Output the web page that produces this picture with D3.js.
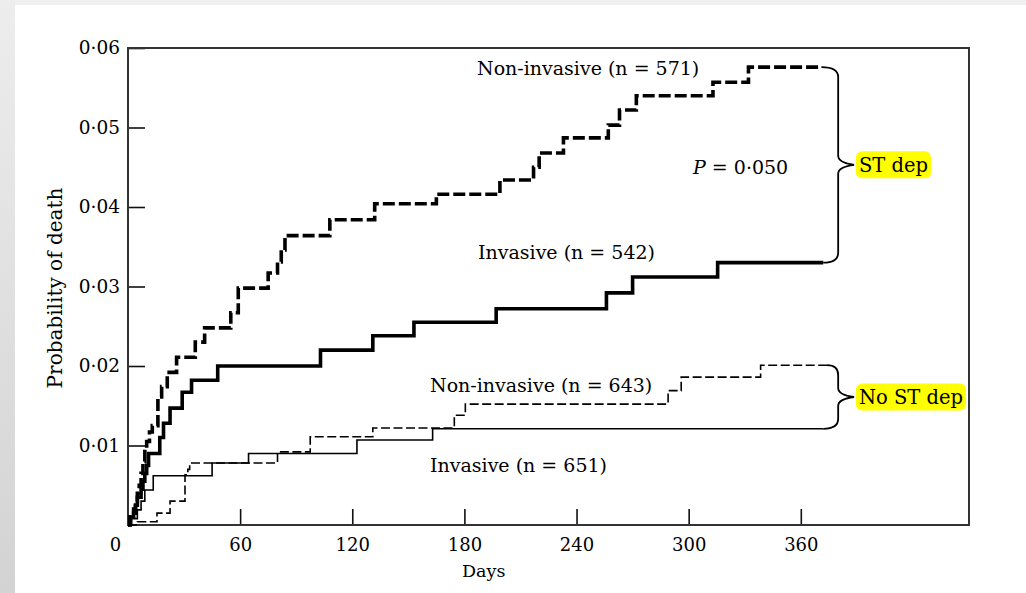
<!DOCTYPE html>
<html>
<head>
<meta charset="utf-8">
<script src="https://cdn.jsdelivr.net/npm/d3@7"></script>
<style>
  html, body { margin: 0; padding: 0; background: #efefef; }
  svg { display: block; }
  text { font-family: "DejaVu Serif", "Liberation Serif", serif; fill: #000; }
</style>
</head>
<body>
<div class="chart"></div>
<script>
// Kaplan-Meier style step curves (days, probability of death)
var stDepNonInvDays = [0, 1, 3, 4, 5, 6, 7, 8, 9, 10, 11.5, 13, 16, 18, 21, 26, 36, 41, 55, 59, 75, 80, 82, 84, 108, 132, 165, 199, 217, 220, 233, 257, 263, 272, 313, 332, 371];
var stDepNonInvProb = [0, 0.001, 0.002, 0.003, 0.004, 0.005, 0.0065, 0.008, 0.0095, 0.0105, 0.0117, 0.0125, 0.0161, 0.0174, 0.0192, 0.0211, 0.023, 0.0248, 0.0267, 0.0298, 0.0317, 0.0331, 0.0346, 0.0364, 0.0384, 0.0404, 0.0416, 0.0434, 0.045, 0.0468, 0.0487, 0.0503, 0.0522, 0.054, 0.0557, 0.0576, 0.0576];

var stDepInvDays = [0, 1, 3, 4, 5, 7, 8, 9, 10, 11, 17, 19, 22.5, 29, 34, 48, 103, 131, 153, 197, 256, 270, 315.5, 372];
var stDepInvProb = [0, 0.001, 0.0015, 0.0025, 0.0035, 0.0045, 0.0055, 0.0065, 0.0075, 0.009, 0.011, 0.0128, 0.0147, 0.0167, 0.0182, 0.02, 0.022, 0.0238, 0.0255, 0.0272, 0.0292, 0.0312, 0.033, 0.033];

var noStNonInvDays = [0, 5, 15.5, 22.5, 30.5, 32, 33, 80, 97.5, 131, 174.6, 180.5, 289, 296, 338.5, 374];
var noStNonInvProb = [0, 0.0004, 0.0015, 0.003, 0.0063, 0.007, 0.0078, 0.0092, 0.0111, 0.0122, 0.0138, 0.0152, 0.0169, 0.0186, 0.0201, 0.0201];

var noStInvDays = [0, 2, 5, 7, 9, 13.5, 45, 64.5, 122.5, 163, 372];
var noStInvProb = [0, 0.0008, 0.0019, 0.003, 0.0044, 0.0062, 0.0078, 0.009, 0.0107, 0.0121, 0.0121];

var xTicks = [0, 60, 120, 180, 240, 300, 360];
var yTicks = [0.01, 0.02, 0.03, 0.04, 0.05, 0.06];

var groupLabels = ['ST dep', 'No ST dep'];
var curveLabels = ['Non-invasive (n = 571)', 'Invasive (n = 542)', 'Non-invasive (n = 643)', 'Invasive (n = 651)'];

function zipSeries(days, prob) {
    return days.map(function (d, i) { return { day: d, p: prob[i] }; });
}

var series = [
    { name: 'stNonInv', values: zipSeries(stDepNonInvDays, stDepNonInvProb), width: 3.6, dash: '12,4' },
    { name: 'stInv', values: zipSeries(stDepInvDays, stDepInvProb), width: 3.6, dash: null },
    { name: 'noNonInv', values: zipSeries(noStNonInvDays, noStNonInvProb), width: 1.6, dash: '9,3.5' },
    { name: 'noInv', values: zipSeries(noStInvDays, noStInvProb), width: 1.6, dash: null }
];

var W = 1026, H = 593;
var margin = { top: 48, right: 57, bottom: 68, left: 128 };
var width = W - margin.left - margin.right;
var height = H - margin.top - margin.bottom;

var root = d3.select('.chart')
    .append('svg')
    .attr('width', W)
    .attr('height', H);

// page backdrop: grey strips, white sheet
var grad = root.append('defs').append('linearGradient')
    .attr('id', 'strip')
    .attr('x1', 0).attr('y1', 0).attr('x2', 0).attr('y2', 1);
grad.append('stop').attr('offset', '0%').attr('stop-color', '#ededed');
grad.append('stop').attr('offset', '100%').attr('stop-color', '#d3d3d3');

root.append('rect').attr('x', 0).attr('y', 0).attr('width', W).attr('height', H).attr('fill', '#f0f0f0');
root.append('rect').attr('x', 0).attr('y', 0).attr('width', 15).attr('height', H).attr('fill', 'url(#strip)');
root.append('rect').attr('x', 15).attr('y', 5).attr('width', W - 15).attr('height', H - 5).attr('fill', '#fff');

var svg = root.append('g')
    .attr('transform', `translate(${margin.left}, ${margin.top})`);

var xScale = d3.scaleLinear().domain([0, 450]).range([0, width]);
var yScale = d3.scaleLinear().domain([0, 0.06]).range([height, 0]);

var fmt = function (d) { return d3.format('.2f')(d).replace('.', '\u00b7'); };

// x axis, ticks pointing inward
var xAxis = svg.append('g')
    .attr('transform', `translate(0, ${height})`)
    .call(d3.axisBottom(xScale).tickValues(xTicks).tickSizeInner(-16).tickSizeOuter(0).tickPadding(13));
xAxis.select('.domain').remove();
xAxis.selectAll('.tick line').attr('stroke', '#111').attr('stroke-width', 1.6)
    .filter(function (d) { return d === 0; }).remove();
xAxis.selectAll('.tick text')
    .style('font-size', '18px')
    .attr('fill', '#000')
    .attr('dx', function (d) { return d === 0 ? '-13px' : 0; });

// y axis
var yAxis = svg.append('g')
    .call(d3.axisLeft(yScale).tickValues(yTicks).tickFormat(fmt).tickSizeInner(-17).tickSizeOuter(0).tickPadding(8));
yAxis.select('.domain').remove();
yAxis.selectAll('.tick line').attr('stroke', '#111').attr('stroke-width', 1.6);
yAxis.selectAll('.tick text').style('font-size', '18.5px').attr('fill', '#000');

// frame
svg.append('rect')
    .attr('width', width)
    .attr('height', height)
    .attr('fill', 'none')
    .attr('stroke', '#333')
    .attr('stroke-width', 2);

svg.append('text')
    .attr('x', width * 0.423)
    .attr('y', height + 52)
    .attr('text-anchor', 'middle')
    .style('font-size', '17.5px')
    .text('Days');

svg.append('text')
    .attr('transform', `translate(${-73}, ${240}) rotate(-90)`)
    .attr('text-anchor', 'middle')
    .attr('dy', '0.35em')
    .style('font-size', '20px')
    .text('Probability of death');

var line = d3.line()
    .x(d => xScale(d.day))
    .y(d => yScale(d.p))
    .curve(d3.curveStepAfter);

svg.selectAll('.km')
    .data(series)
    .enter()
    .append('path')
    .attr('class', 'km')
    .attr('d', d => line(d.values))
    .style('stroke', '#000')
    .style('stroke-width', d => d.width)
    .style('stroke-dasharray', d => d.dash)
    .style('fill', 'none');

// curly braces grouping the pairs
function brace(top, bottom) {
    var bx = xScale(380), tip = xScale(388.5);
    var x0 = xScale(top.day), x1 = xScale(bottom.day);
    var y0 = yScale(top.p), y1 = yScale(bottom.p), ym = (y0 + y1) / 2;
    return `M${x0},${y0} Q${bx},${y0} ${bx},${y0 + 10} L${bx},${ym - 9} Q${bx},${ym - 2} ${tip},${ym}`
        + ` Q${bx},${ym + 2} ${bx},${ym + 9} L${bx},${y1 - 10} Q${bx},${y1} ${x1},${y1}`;
}

var braces = [
    { top: series[0].values[series[0].values.length - 1], bottom: series[1].values[series[1].values.length - 1], label: groupLabels[0] },
    { top: series[2].values[series[2].values.length - 1], bottom: series[3].values[series[3].values.length - 1], label: groupLabels[1] }
];

braces.forEach(function (b) {
    svg.append('path')
        .attr('d', brace(b.top, b.bottom))
        .attr('fill', 'none')
        .attr('stroke', '#000')
        .attr('stroke-width', 1.8);
    var ym = (yScale(b.top.p) + yScale(b.bottom.p)) / 2;
    var g = svg.append('g').attr('transform', `translate(${xScale(389.5)}, ${ym})`);
    var t = g.append('text')
        .attr('x', 3)
        .attr('dy', '0.35em')
        .style('font-size', '19.5px')
        .text(b.label);
    var w = t.node().getComputedTextLength();
    g.insert('rect', 'text')
        .attr('x', 0)
        .attr('y', -13.5)
        .attr('width', w + 6)
        .attr('height', 27)
        .attr('rx', 6)
        .attr('fill', '#ffff00');
});

// curve annotations
var notes = [
    { text: curveLabels[0], x: 349, y: 20 },
    { text: curveLabels[1], x: 350, y: 204 },
    { text: curveLabels[2], x: 302, y: 337 },
    { text: curveLabels[3], x: 302, y: 417 }
];
notes.forEach(function (n) {
    svg.append('text')
        .attr('x', n.x)
        .attr('y', n.y)
        .attr('dy', '0.35em')
        .style('font-size', '19px')
        .text(n.text);
});

var pText = svg.append('text')
    .attr('x', 565)
    .attr('y', 119)
    .attr('dy', '0.35em')
    .style('font-size', '19px');
pText.append('tspan').style('font-style', 'italic').text('P');
pText.append('tspan').text(' = 0\u00b7050');
</script>
</body>
</html>
